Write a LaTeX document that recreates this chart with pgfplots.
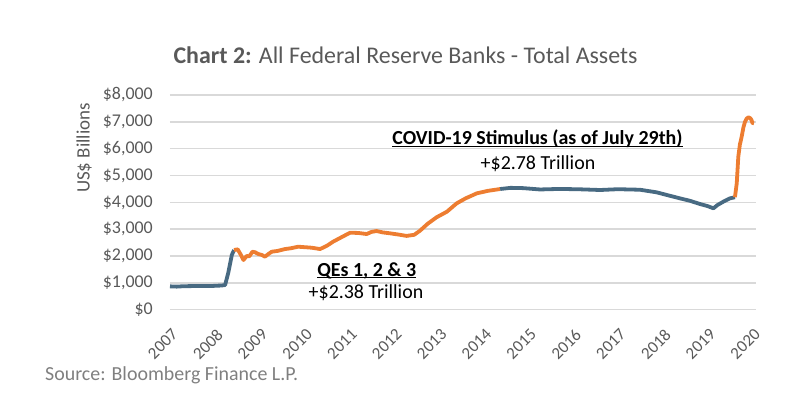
\documentclass[border=0pt]{standalone}
\usepackage{pgfplots}
\pgfplotsset{compat=1.18}
\usepackage{fontspec}
\setmainfont{Carlito}
\definecolor{fedblue}{HTML}{486A82}
\definecolor{fedorange}{HTML}{ED7D31}
\definecolor{txtgray}{HTML}{595959}
\definecolor{srcgray}{HTML}{7F7F7F}
\definecolor{gridgray}{HTML}{D9D9D9}
\newcommand{\ul}[1]{\setbox0\hbox{#1}\rlap{\rule[-2.4bp]{\wd0}{1.6bp}}\box0}
\begin{document}
\begin{tikzpicture}
\useasboundingbox (-170bp,-86.3bp) rectangle (626bp,309.7bp);
\begin{axis}[
  at={(0,0)}, anchor=south west,
  scale only axis, width=586bp, height=214.7bp,
  xmin=2007, xmax=2020.08, ymin=0, ymax=8000,
  axis line style={draw=none},
  major tick length=0pt,
  ymajorgrids, grid style={draw=gridgray, line width=1.4bp},
  ytick={0,1000,2000,3000,4000,5000,6000,7000,8000},
  yticklabels={{\$0},{\$1,000},{\$2,000},{\$3,000},{\$4,000},{\$5,000},{\$6,000},{\$7,000},{\$8,000}},
  xtick={2007,2008,2009,2010,2011,2012,2013,2014,2015,2016,2017,2018,2019,2020},
  xticklabels={2007,2008,2009,2010,2011,2012,2013,2014,2015,2016,2017,2018,2019,2020},
  /pgf/number format/assume math mode=true,
  ticklabel style={text=txtgray},
  yticklabel style={font=\fontsize{18}{18}\selectfont, anchor=east, inner sep=0pt, xshift=-17bp},
  xticklabel shift=18bp,
  xticklabel style={font=\fontsize{17}{17}\selectfont, xshift=1bp, rotate=45, anchor=north east, inner sep=0pt},
  clip=false,
]
\addplot[fedblue, line width=3.8bp, line join=round] coordinates {
(2007.00,870) (2007.15,860) (2007.30,875) (2007.50,880) (2007.70,885) (2007.90,880)
(2008.05,895) (2008.15,900) (2008.23,920) (2008.30,1370) (2008.38,2040) (2008.43,2224)
};
\addplot[fedorange, line width=3.8bp, line join=round] coordinates {
(2008.43,2224) (2008.51,2250) (2008.57,2080) (2008.64,1850) (2008.71,2000) (2008.77,1990)
(2008.84,2160) (2008.90,2140) (2008.97,2075) (2009.05,2040) (2009.12,1975) (2009.20,2080)
(2009.27,2160) (2009.40,2190) (2009.57,2260) (2009.70,2290) (2009.86,2347) (2010.00,2330)
(2010.16,2310) (2010.35,2260) (2010.50,2380) (2010.64,2533) (2010.85,2720) (2011.02,2869)
(2011.20,2860) (2011.39,2820) (2011.50,2900) (2011.61,2932) (2011.75,2880) (2011.91,2846)
(2012.10,2800) (2012.28,2750) (2012.45,2790) (2012.58,2943) (2012.75,3200) (2012.95,3443)
(2013.18,3651) (2013.40,3964) (2013.60,4150) (2013.85,4337) (2014.10,4430) (2014.37,4497)
};
\addplot[fedblue, line width=3.8bp, line join=round] coordinates {
(2014.37,4497) (2014.60,4540) (2014.88,4530) (2015.26,4480) (2015.70,4500) (2016.15,4486)
(2016.60,4460) (2017.00,4490) (2017.49,4470) (2017.86,4374) (2018.10,4270) (2018.38,4150)
(2018.60,4060) (2018.83,3938) (2019.00,3860) (2019.13,3778) (2019.22,3900) (2019.35,4024)
(2019.50,4150) (2019.61,4190)
};
\addplot[fedorange, line width=3.8bp, line join=round] coordinates {
(2019.61,4190) (2019.65,4709) (2019.685,5700) (2019.72,6150) (2019.76,6446) (2019.80,6800)
(2019.835,7004) (2019.87,7120) (2019.91,7168) (2019.95,7140) (2019.98,7068) (2020.00,6960)
(2020.036,6945)
};
\end{axis}
\node[anchor=base, inner sep=0, font=\fontsize{24}{24}\selectfont, text=txtgray] at (235.5bp,246.4bp) {\textbf{Chart 2:} All Federal Reserve Banks - Total Assets};
\node[anchor=center, inner sep=0, rotate=90, font=\fontsize{19}{19}\selectfont, text=txtgray] at (-86bp,161.7bp) {US\$ Billions};
\node[anchor=base, inner sep=0, font=\fontsize{20}{20}\selectfont\bfseries] at (367.5bp,164.7bp) {\ul{COVID-19 Stimulus (as of July 29th)}};
\node[anchor=base, inner sep=0, font=\fontsize{20}{20}\selectfont] at (368bp,140.4bp) {+\$2.78 Trillion};
\node[anchor=base, inner sep=0, font=\fontsize{20}{20}\selectfont\bfseries] at (196.7bp,33.7bp) {\ul{QEs 1, 2 \& 3}};
\node[anchor=base, inner sep=0, font=\fontsize{20}{20}\selectfont] at (196bp,11.4bp) {+\$2.38 Trillion};
\node[anchor=base west, inner sep=0, font=\fontsize{20}{20}\selectfont, text=srcgray] at (-125bp,-70.3bp) {Source: Bloomberg Finance L.P.};
\end{tikzpicture}
\end{document}
